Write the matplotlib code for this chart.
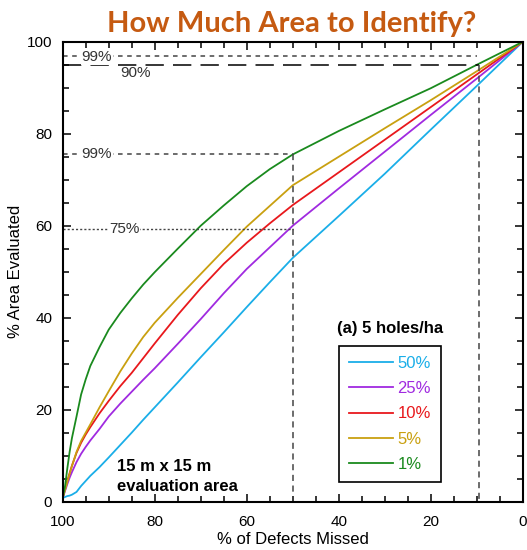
import numpy as np
import matplotlib
matplotlib.use("Agg")
import matplotlib.pyplot as plt
from matplotlib.ticker import MultipleLocator

plt.rcParams['font.family'] = ['Liberation Sans', 'DejaVu Sans']

# % of defects missed (shared x grid for every curve)
missed = [100, 99.5, 99, 98.5, 98, 97, 96, 95, 94, 92, 90, 87.5, 85, 82.5, 80,
          75, 70, 65, 60, 55, 50, 40, 30, 20, 10, 0]

# % area evaluated, one series per defect size class
area_50 = [0.8, 1.0, 1.2, 1.3, 1.5, 2.1, 3.4, 4.5, 5.6, 7.5, 9.6, 12.3, 15.0, 17.8, 20.5,
           25.9, 31.4, 36.8, 42.3, 47.7, 53.0, 62.1, 71.3, 80.9, 90.4, 100]
area_25 = [0.8, 2.3, 3.8, 5.2, 6.4, 8.6, 10.4, 11.9, 13.3, 15.8, 18.5, 21.3, 23.9, 26.5, 29.0,
           34.3, 39.7, 45.3, 50.6, 55.3, 60.0, 68.1, 76.1, 84.1, 92.0, 100]
area_10 = [0.8, 2.8, 4.5, 6.2, 7.8, 10.6, 12.8, 14.6, 16.2, 19.2, 21.9, 25.1, 28.0, 31.2, 34.4,
           40.6, 46.4, 51.7, 56.3, 60.5, 64.5, 71.6, 78.7, 85.8, 92.9, 100]
area_5 = [0.8, 2.5, 4.3, 6.0, 7.7, 10.8, 13.2, 15.0, 16.8, 20.5, 24.0, 28.3, 32.2, 35.8, 38.9,
          44.3, 49.5, 54.7, 59.8, 64.3, 68.8, 75.0, 81.2, 87.3, 93.6, 100]
area_1 = [0.8, 3.3, 7.2, 10.8, 13.8, 18.5, 23.3, 26.6, 29.5, 33.6, 37.4, 41.0, 44.2, 47.2, 49.9,
          55.0, 60.0, 64.4, 68.6, 72.3, 75.5, 80.6, 85.3, 89.9, 95.0, 100]

labels = ['50%', '25%', '10%', '5%', '1%']
colors = ['#1aaee8', '#a02ae0', '#e8181c', '#c9a010', '#1a8a1e']

fig = plt.figure(figsize=(5.27, 5.5), dpi=100)
ax = fig.add_axes([0.119, 0.088, 0.873, 0.836])

for ys, lab, col in zip([area_50, area_25, area_10, area_5, area_1], labels, colors):
    ax.plot(missed, ys, color=col, lw=1.3, label=lab)

# reference lines
ax.plot([100, 10], [96.9, 96.9], color='#444444', lw=1.1, ls=(0, (3, 3)))
ax.plot([100, 9.5], [94.9, 94.9], color='black', lw=1.1, ls=(0, (12, 6)))
ax.plot([9.5, 9.5], [95.0, 0], color='#444444', lw=1.1, ls=(0, (4, 3)))
ax.plot([100, 50], [75.6, 75.6], color='#444444', lw=1.1, ls=(0, (3, 3)))
ax.plot([50, 50], [75.6, 0], color='#444444', lw=1.1, ls=(0, (4, 3)))
ax.plot([100, 50], [59.2, 59.2], color='#444444', lw=1.0, ls=(0, (1.5, 1.5)))

lab_kw = dict(fontsize=11, color='#333333', ha='center', va='center',
              bbox=dict(facecolor='white', edgecolor='none', pad=0.5))
ax.text(92.6, 96.7, '99%', **lab_kw)
ax.text(84.1, 93.2, '90%', fontsize=11, color='#333333', ha='center', va='center')
ax.text(92.6, 75.6, '99%', **lab_kw)
ax.text(86.6, 59.2, '75%', **lab_kw)

ax.text(88.3, 7.6, '15 m x 15 m', fontsize=12, fontweight='bold', va='center')
ax.text(88.3, 3.3, 'evaluation area', fontsize=12, fontweight='bold', va='center')
ax.text(28.9, 37.7, '(a) 5 holes/ha', fontsize=12, fontweight='bold',
        ha='center', va='center')

leg = ax.legend(loc='upper left', bbox_to_anchor=(0.601, 0.339), fontsize=12,
                labelcolor='linecolor', handlelength=2.6, handletextpad=0.3,
                labelspacing=0.62, borderpad=0.6, borderaxespad=0,
                fancybox=False, framealpha=1)
leg.get_frame().set_edgecolor('black')
leg.get_frame().set_linewidth(1.2)

ax.set_xlim(100, 0)
ax.set_ylim(0, 100)
ax.xaxis.set_major_locator(MultipleLocator(20))
ax.xaxis.set_minor_locator(MultipleLocator(5))
ax.yaxis.set_major_locator(MultipleLocator(20))
ax.yaxis.set_minor_locator(MultipleLocator(5))
ax.tick_params(which='both', direction='in', top=True, right=True, labelsize=11)
ax.tick_params(which='major', length=6, width=1.1)
ax.tick_params(which='minor', length=4, width=1.1)
ax.tick_params(axis='x', which='major', pad=9.5)
ax.tick_params(axis='y', which='major', pad=7.5)
for sp in ax.spines.values():
    sp.set_linewidth(1.5)

ax.set_xlabel('% of Defects Missed', fontsize=12, labelpad=2)
ax.set_ylabel('% Area Evaluated', fontsize=12, labelpad=3)

fig.text(0.553, 0.942, 'How Much Area to Identify?', fontsize=21,
         fontweight='bold', color='#c55a11', family='Lato', ha='center',
         va='baseline')

fig.savefig('out.png', dpi=100)
